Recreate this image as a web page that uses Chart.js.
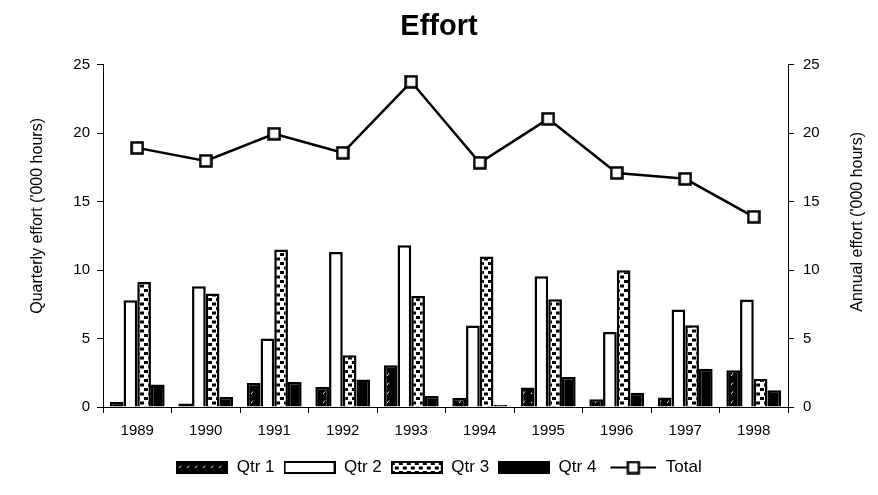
<!DOCTYPE html>
<html>
<head>
<meta charset="utf-8">
<script src="https://cdn.jsdelivr.net/npm/chart.js@4.4.1/dist/chart.umd.min.js"></script>
<style>
  html, body { margin: 0; padding: 0; background: #fff; }
  #wrap { width: 878px; height: 495px; }
</style>
</head>
<body>
<div id="wrap"><canvas id="effortChart" width="878" height="495"></canvas></div>
<script>
// data ('000 hours)
const years = ['1989', '1990', '1991', '1992', '1993', '1994', '1995', '1996', '1997', '1998'];
const qtr1 = [0.37, 0.25, 1.75, 1.46, 3.05, 0.66, 1.42, 0.56, 0.69, 2.68];
const qtr2 = [7.8, 8.82, 5.0, 11.33, 11.82, 5.95, 9.55, 5.48, 7.12, 7.85];
const qtr3 = [9.14, 8.29, 11.5, 3.78, 8.11, 11.0, 7.87, 9.99, 5.97, 2.07];
const qtr4 = [1.64, 0.73, 1.83, 2.0, 0.8, 0.17, 2.19, 1.05, 2.8, 1.22];
const total = [18.93, 17.98, 19.96, 18.57, 23.76, 17.84, 21.05, 17.1, 16.67, 13.89];
const axisMin = 0, axisMax = 25, axisStep = 5;
const leftTitle = "Quarterly effort ('000 hours)";
const rightTitle = "Annual effort ('000 hours)";

const FONT = '"Liberation Sans", Arial, sans-serif';

// fill patterns like the old printed chart
function makePattern(w, h, draw) {
    const c = document.createElement('canvas');
    c.width = w; c.height = h;
    draw(c.getContext('2d'));
    return c.getContext('2d').createPattern(c, 'repeat');
}
const hatch = makePattern(8, 9, function (g) {
    g.fillStyle = '#000';
    g.fillRect(0, 0, 8, 9);
    g.strokeStyle = '#fff';
    g.lineWidth = 1;
    g.beginPath(); g.moveTo(3, 7); g.lineTo(5, 4.5); g.stroke();
});
const dashes = makePattern(8, 9, function (g) {
    g.fillStyle = '#fff';
    g.fillRect(0, 0, 8, 9);
    g.fillStyle = '#000';
    g.fillRect(0, 1, 4, 3);
    g.fillRect(4, 5.5, 4, 3);
});

// legend swatches
function swatch(fill) {
    const c = document.createElement('canvas');
    c.width = 52; c.height = 13;
    const g = c.getContext('2d');
    g.fillStyle = fill;
    g.fillRect(0, 0, 52, 13);
    g.strokeStyle = '#000';
    g.lineWidth = 2;
    g.strokeRect(1, 1, 50, 11);
    return c;
}
function squareMarker() {
    const c = document.createElement('canvas');
    c.width = 14; c.height = 14;
    const g = c.getContext('2d');
    g.fillStyle = '#fff';
    g.fillRect(1, 1, 12, 12);
    g.strokeStyle = '#000';
    g.lineWidth = 2.5;
    g.strokeRect(1.5, 1.5, 11, 11);
    return c;
}
function lineSwatch() {
    const c = document.createElement('canvas');
    c.width = 50; c.height = 14;
    const g = c.getContext('2d');
    g.strokeStyle = '#000';
    g.lineWidth = 2;
    g.beginPath(); g.moveTo(4, 7); g.lineTo(50, 7); g.stroke();
    g.drawImage(squareMarker(), 20, 0);
    return c;
}
const marker = squareMarker();
const legendIcons = [swatch(hatch), swatch('#fff'), swatch(dashes), swatch('#000'), lineSwatch()];

// axis titles, both reading bottom to top
const axisTitles = {
    id: 'axisTitles',
    afterDraw(chart) {
        const ctx = chart.ctx;
        const a = chart.chartArea;
        const mid = (a.top + a.bottom) / 2;
        ctx.save();
        ctx.font = '16px ' + FONT;
        ctx.fillStyle = '#000';
        ctx.textAlign = 'center';
        ctx.textBaseline = 'middle';
        [[a.left - 65, mid - 20, leftTitle], [a.right + 70, mid - 14, rightTitle]].forEach(function (t) {
            ctx.save();
            ctx.translate(t[0], t[1]);
            ctx.rotate(-Math.PI / 2);
            ctx.fillText(t[2], 0, 0);
            ctx.restore();
        });
        ctx.restore();
    }
};

const axisStyle = {
    min: axisMin,
    max: axisMax,
    border: { color: '#000', width: 1 },
    grid: { drawOnChartArea: false, tickLength: 6, color: '#000' },
};

new Chart(document.getElementById('effortChart'), {
    type: 'bar',
    data: {
        labels: years,
        datasets: [
            { label: 'Qtr 1', data: qtr1, backgroundColor: hatch, borderColor: '#000', borderWidth: 2.5, yAxisID: 'y', order: 1 },
            { label: 'Qtr 2', data: qtr2, backgroundColor: '#fff', borderColor: '#000', borderWidth: 2.5, yAxisID: 'y', order: 1 },
            { label: 'Qtr 3', data: qtr3, backgroundColor: dashes, borderColor: '#000', borderWidth: 2.5, yAxisID: 'y', order: 1 },
            { label: 'Qtr 4', data: qtr4, backgroundColor: '#000', borderColor: '#000', borderWidth: 2.5, yAxisID: 'y', order: 1 },
            {
                type: 'line', label: 'Total', data: total, yAxisID: 'y1', order: 0,
                borderColor: '#000', borderWidth: 2.5, pointStyle: marker,
                pointRadius: 7, pointHoverRadius: 7, fill: false, tension: 0
            }
        ]
    },
    options: {
        responsive: false,
        animation: false,
        layout: { padding: { top: 0, bottom: 9, left: 0, right: 0 } },
        datasets: { bar: { categoryPercentage: 0.8, barPercentage: 1.0 } },
        scales: {
            x: {
                offset: true,
                border: { color: '#000', width: 1 },
                grid: { offset: true, drawOnChartArea: false, tickLength: 6, color: '#000' },
                ticks: { color: '#000', font: { size: 15, family: FONT }, padding: 9, maxRotation: 0 },
                afterFit: function (s) { s.height = 43; }
            },
            y: Object.assign({}, axisStyle, {
                position: 'left',
                ticks: { stepSize: axisStep, color: '#000', font: { size: 15, family: FONT }, padding: 7 },
                afterFit: function (s) { s.width = 103; }
            }),
            y1: Object.assign({}, axisStyle, {
                position: 'right',
                ticks: { stepSize: axisStep, color: '#000', font: { size: 15, family: FONT }, padding: 9 },
                afterFit: function (s) { s.width = 90; }
            })
        },
        plugins: {
            title: {
                display: true,
                text: 'Effort',
                color: '#000',
                font: { size: 29, weight: 'bold', family: FONT },
                padding: { top: 10, bottom: 20 }
            },
            legend: {
                position: 'bottom',
                labels: {
                    color: '#000',
                    font: { size: 17, family: FONT },
                    usePointStyle: true,
                    pointStyleWidth: 52,
                    boxHeight: 13,
                    padding: 9,
                    generateLabels: function (chart) {
                        return chart.data.datasets.map(function (ds, i) {
                            return {
                                text: ds.label,
                                pointStyle: legendIcons[i],
                                datasetIndex: i,
                                hidden: false,
                                lineWidth: 0,
                                fontColor: '#000'
                            };
                        });
                    }
                }
            },
            tooltip: { enabled: false }
        }
    },
    plugins: [axisTitles]
});
</script>
</body>
</html>
